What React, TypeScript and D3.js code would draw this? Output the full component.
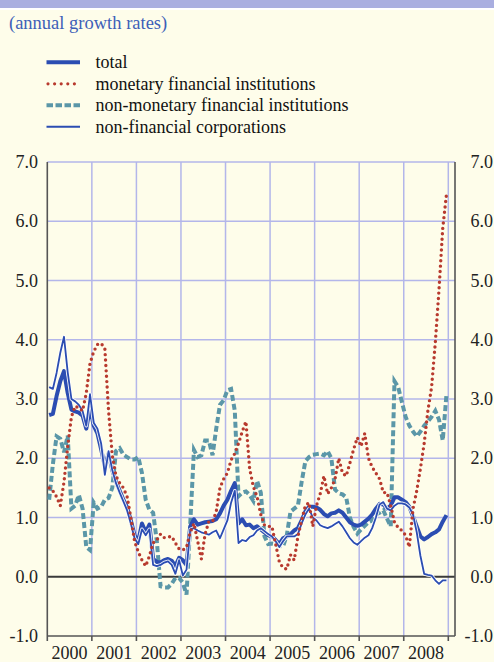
import React, { useRef, useEffect } from 'react';
import * as d3 from 'd3';

// monthly observations, Jan 2000 .. Dec 2008 (annual growth rates, %)
const total = [
  2.73, 2.75, 3.05, 3.3, 3.47, 3.1, 2.82, 2.79, 2.77, 2.72, 2.5, 2.85,
  2.55, 2.42, 2.15, 1.86, 2.08, 1.8, 1.6, 1.45, 1.3, 1.17, 0.95, 0.7,
  0.6, 0.9, 0.75, 0.88, 0.3, 0.25, 0.24, 0.28, 0.3, 0.27, 0.18, 0.32,
  0.28, 0.2, 0.85, 0.97, 0.88, 0.9, 0.92, 0.93, 0.94, 0.97, 1.07, 1.2,
  1.3, 1.45, 1.58, 0.9, 0.97, 0.87, 0.88, 0.82, 0.85, 0.8, 0.75, 0.7,
  0.68, 0.62, 0.55, 0.65, 0.68, 0.72, 0.78, 0.82, 0.95, 1.1, 1.18, 1.18,
  1.17, 1.13, 1.06, 1.02, 1.07, 1.08, 1.12, 1.08, 1.0, 0.92, 0.88, 0.86,
  0.88, 0.93, 0.98, 1.05, 1.15, 1.23, 1.22, 1.15, 1.2, 1.34, 1.34, 1.3,
  1.26, 1.18, 1.02, 0.85, 0.68, 0.63, 0.67, 0.72, 0.75, 0.8, 0.93, 1.04,
];

const mfi = [
  1.5, 1.45, 1.35, 1.2, 1.6, 2.2, 2.7, 2.88, 2.85, 2.8, 3.1, 3.6,
  3.8, 3.92, 3.94, 3.85, 2.8, 2.05, 1.7, 1.58, 1.5, 1.35, 1.0, 0.6,
  0.42, 0.28, 0.18, 0.35, 0.57, 0.62, 0.72, 0.66, 0.67, 0.68, 0.57, 0.47,
  0.45, 0.5, 0.75, 0.9, 0.6, 0.3, 0.72, 0.93, 0.93, 1.1, 1.5, 1.65,
  1.75, 1.97, 2.08, 2.25, 2.45, 2.62, 1.82, 1.52, 1.35, 1.05, 0.87, 0.85,
  0.85, 0.55, 0.25, 0.15, 0.13, 0.37, 0.28, 0.68, 0.95, 1.2, 1.25, 0.85,
  1.2, 1.4, 1.7, 1.4, 1.5, 1.65, 2.0, 1.75, 1.7, 1.92, 2.15, 2.35,
  2.2, 2.42, 2.0, 1.85, 1.75, 1.65, 1.42, 1.42, 1.2, 0.92, 0.83, 0.78,
  0.7, 0.5, 1.15, 1.45, 1.83, 2.25, 2.8, 3.2, 3.95, 4.85, 5.88, 6.45,
];

const nmfi = [
  1.3, 1.9, 2.37, 2.33, 2.1, 2.38, 1.15, 1.2, 1.38, 1.15, 0.5, 0.45,
  1.25, 1.15, 1.18, 1.3, 1.33, 1.5, 2.12, 2.17, 2.06, 2.02, 1.98, 1.98,
  2.02, 1.75, 1.3, 1.13, 1.08, 0.6, -0.16, -0.18, -0.18, -0.12, -0.02, -0.02,
  -0.1, -0.3, 0.9, 2.14, 2.02, 2.05, 2.3, 2.3, 2.05, 2.5, 2.9, 2.98,
  3.15, 3.17, 2.8, 1.36, 1.42, 1.44, 1.38, 1.28, 1.62, 1.42, 0.68, 0.55,
  0.56, 0.55, 0.52, 0.51, 0.7, 1.1, 1.15, 1.2, 1.6, 1.95, 2.02, 2.06,
  2.07, 2.08, 2.05, 2.12, 2.0, 1.47, 1.41, 1.39, 1.34, 1.0, 0.84, 0.73,
  0.8, 0.86, 0.92, 0.95, 1.05, 1.08, 1.12, 0.98, 0.85, 3.3, 3.2, 2.95,
  2.7, 2.55, 2.45, 2.37, 2.45, 2.55, 2.62, 2.7, 2.8, 2.65, 2.3, 3.07,
];

const nfc = [
  3.2, 3.17, 3.44, 3.78, 4.05, 3.45, 3.0, 2.96, 2.9, 2.8, 2.55, 3.08,
  2.6, 2.5, 2.25, 1.72, 2.12, 1.8, 1.58, 1.42, 1.27, 1.12, 0.9, 0.65,
  0.55, 0.8, 0.7, 0.8, 0.2, 0.18, 0.2, 0.24, 0.26, 0.2, 0.05, 0.28,
  0.02, 0.12, 0.8, 0.82, 0.78, 0.75, 0.73, 0.71, 0.75, 0.78, 0.65, 0.8,
  0.95, 1.25, 1.45, 0.57, 0.62, 0.6, 0.67, 0.7, 0.78, 0.82, 0.77, 0.72,
  0.68, 0.6, 0.5, 0.6, 0.68, 0.68, 0.68, 0.72, 0.9, 1.05, 1.15, 1.0,
  0.95, 0.87, 0.84, 0.82, 0.85, 0.89, 0.93, 0.85, 0.75, 0.65, 0.58, 0.54,
  0.6, 0.66, 0.7, 0.82, 1.0, 1.22, 1.26, 1.15, 1.12, 1.2, 1.24, 1.24,
  1.22, 1.17, 1.05, 0.75, 0.35, 0.05, 0.03, 0.02, -0.06, -0.12, -0.06, -0.06,
];

const years = [2000, 2001, 2002, 2003, 2004, 2005, 2006, 2007, 2008];
const yTicks = [-1, 0, 1, 2, 3, 4, 5, 6, 7];
const legendLabels = [
  'total',
  'monetary financial institutions',
  'non-monetary financial institutions',
  'non-financial corporations',
];

const BLUE = '#2b4db2';
const RED = '#b83a2e';
const TEAL = '#5b97a8';
const GRID = '#b3b6ea';
const BG = '#fefdea';
const FONT = "'Liberation Serif', 'DejaVu Serif', serif";

const App = () => {
  const svgRef = useRef<SVGSVGElement>(null);

  useEffect(() => {
    const width = 494;
    const height = 662;
    const plotLeft = 47.3;
    const plotRight = 455;
    const plotTop = 162;
    const plotBottom = 636;

    const svg = d3.select(svgRef.current);
    svg.selectAll('*').remove();
    svg.attr('width', width).attr('height', height).attr('viewBox', [0, 0, width, height])
      .style('font-family', FONT);

    svg.append('rect').attr('width', width).attr('height', height).attr('fill', BG);
    svg.append('rect').attr('width', width).attr('height', 8).attr('fill', '#a9aee0');
    svg.append('rect').attr('y', 8).attr('width', width).attr('height', 2).attr('fill', '#ffffff');

    svg.append('text')
      .attr('x', 9).attr('y', 29)
      .attr('fill', '#3d5fb8')
      .attr('font-size', 18.5)
      .text('(annual growth rates)');

    // scales
    const x = d3.scaleLinear().domain([2000, 2009]).range([plotLeft, 448.3]);
    const y = d3.scaleLinear().domain([-1, 7]).range([plotBottom, plotTop]);
    const dateOf = (i: number) => 2000 + (i + 0.5) / 12;

    // grid
    const grid = svg.append('g').attr('stroke', GRID).attr('stroke-width', 1.5);
    grid.selectAll('line.h')
      .data(yTicks.filter(t => t > 0))
      .join('line')
      .attr('x1', plotLeft).attr('x2', plotRight)
      .attr('y1', d => y(d)).attr('y2', d => y(d));
    grid.selectAll('line.v')
      .data(years.map(yr => yr + 1))
      .join('line')
      .attr('x1', d => x(d)).attr('x2', d => x(d))
      .attr('y1', plotTop).attr('y2', plotBottom);

    // zero line
    svg.append('line')
      .attr('x1', plotLeft).attr('x2', plotRight)
      .attr('y1', y(0)).attr('y2', y(0))
      .attr('stroke', '#3a3a3a').attr('stroke-width', 2);

    // axes frame
    const axisG = svg.append('g').attr('stroke', '#555').attr('stroke-width', 1.6).attr('fill', 'none');
    axisG.append('line').attr('x1', plotLeft).attr('x2', plotLeft).attr('y1', plotTop).attr('y2', plotBottom);
    axisG.append('line').attr('x1', plotRight).attr('x2', plotRight).attr('y1', plotTop).attr('y2', plotBottom);
    axisG.append('line').attr('x1', plotLeft).attr('x2', plotRight).attr('y1', plotBottom).attr('y2', plotBottom);
    axisG.selectAll('line.tick')
      .data([...years, 2009])
      .join('line')
      .attr('x1', d => x(d)).attr('x2', d => x(d))
      .attr('y1', plotBottom).attr('y2', plotBottom + 5);

    // y labels both sides
    const fmt = (d: number) => d.toFixed(1);
    svg.append('g')
      .selectAll('text')
      .data(yTicks)
      .join('text')
      .attr('x', 38).attr('y', d => y(d) + 6)
      .attr('text-anchor', 'end')
      .attr('fill', '#222')
      .attr('font-size', 18)
      .text(d => fmt(d));
    svg.append('g')
      .selectAll('text')
      .data(yTicks)
      .join('text')
      .attr('x', 493).attr('y', d => y(d) + 6)
      .attr('text-anchor', 'end')
      .attr('fill', '#222')
      .attr('font-size', 18)
      .text(d => fmt(d));

    // year labels
    svg.append('g')
      .selectAll('text')
      .data(years)
      .join('text')
      .attr('x', d => x(d + 0.5)).attr('y', 659)
      .attr('text-anchor', 'middle')
      .attr('fill', '#222')
      .attr('font-size', 18)
      .text(d => String(d));

    // series
    const line = d3.line<number>().x((_, i) => x(dateOf(i))).y(d => y(d));

    svg.append('path').attr('d', line(nmfi))
      .attr('fill', 'none').attr('stroke', TEAL).attr('stroke-width', 4)
      .attr('stroke-dasharray', '6 3');
    svg.append('path').attr('d', line(total))
      .attr('fill', 'none').attr('stroke', BLUE).attr('stroke-width', 4)
      .attr('stroke-linejoin', 'round');
    svg.append('path').attr('d', line(nfc))
      .attr('fill', 'none').attr('stroke', '#ffffff').attr('stroke-width', 3.6)
      .attr('stroke-linejoin', 'round').attr('stroke-opacity', 0.9);
    svg.append('path').attr('d', line(nfc))
      .attr('fill', 'none').attr('stroke', BLUE).attr('stroke-width', 1.8)
      .attr('stroke-linejoin', 'round');
    svg.append('path').attr('d', line(mfi))
      .attr('fill', 'none').attr('stroke', RED).attr('stroke-width', 3.4)
      .attr('stroke-linecap', 'round').attr('stroke-dasharray', '0 5.4');

    // legend
    const legendStyles = [
      { stroke: BLUE, width: 4, dash: null, cap: 'butt' },
      { stroke: RED, width: 3.2, dash: '0 6.6', cap: 'round' },
      { stroke: TEAL, width: 4, dash: '6.5 2.5', cap: 'butt' },
      { stroke: BLUE, width: 2, dash: null, cap: 'butt' },
    ];
    const legend = svg.append('g');
    legendLabels.forEach((label, i) => {
      const ly = 62.3 + i * 21.5;
      const s = legendStyles[i];
      legend.append('line')
        .attr('x1', i === 1 ? 48 : 46.5).attr('x2', 80)
        .attr('y1', ly).attr('y2', ly)
        .attr('stroke', s.stroke).attr('stroke-width', s.width)
        .attr('stroke-linecap', s.cap)
        .attr('stroke-dasharray', s.dash);
      legend.append('text')
        .attr('x', 95.5).attr('y', ly + 6)
        .attr('fill', '#111')
        .attr('font-size', 18)
        .text(label);
    });
  }, []);

  return (
    <div style={{ position: 'absolute', left: 0, top: 0 }}>
      <svg ref={svgRef}></svg>
    </div>
  );
};

export default App;
